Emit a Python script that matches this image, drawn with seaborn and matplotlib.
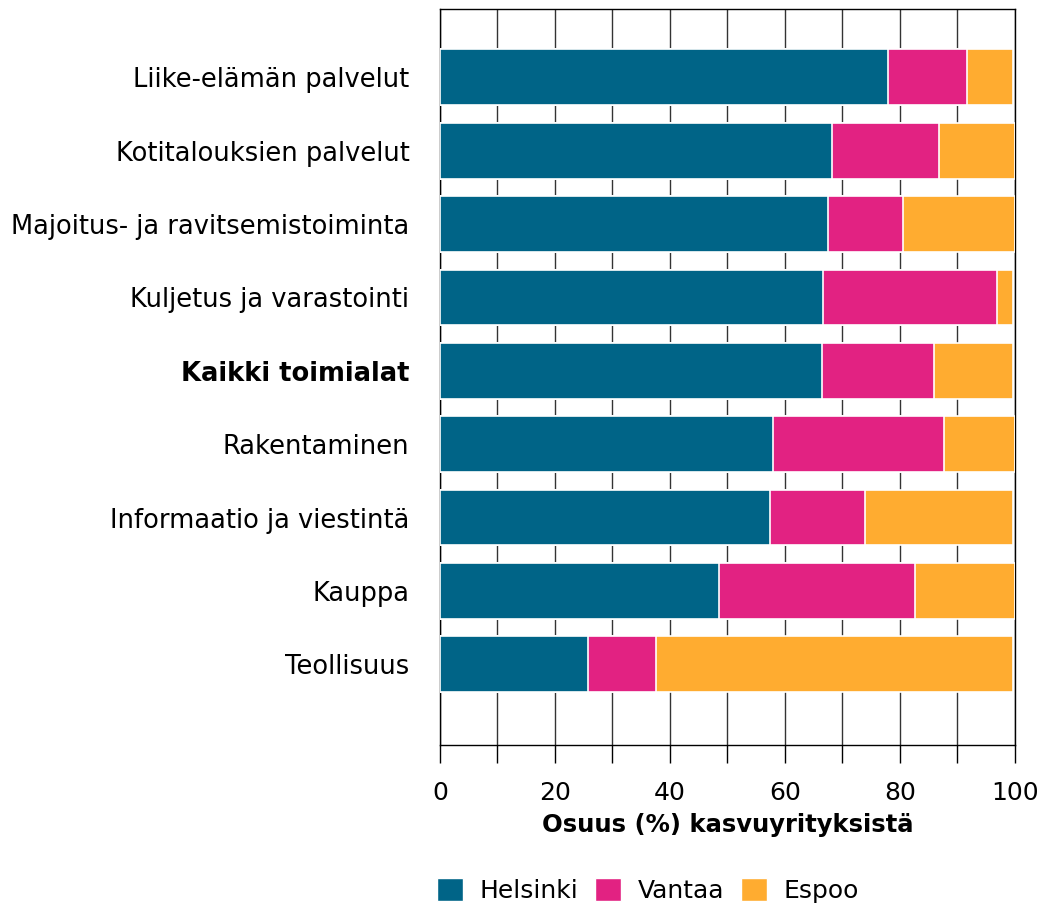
import pandas as pd
import numpy as np
import matplotlib.pyplot as plt
import seaborn as sns
from matplotlib.patches import Patch
from matplotlib.ticker import MultipleLocator

categories = ['Liike-elämän palvelut', 'Kotitalouksien palvelut',
              'Majoitus- ja ravitsemistoiminta', 'Kuljetus ja varastointi',
              'Kaikki toimialat', 'Rakentaminen', 'Informaatio ja viestintä',
              'Kauppa', 'Teollisuus']
helsinki = [77.9, 68.3, 67.5, 66.6, 66.4, 57.9, 57.4, 48.5, 25.7]
vantaa = [13.8, 18.5, 13.0, 30.3, 19.5, 29.8, 16.5, 34.1, 11.9]
espoo = [8.0, 13.2, 19.5, 2.8, 13.8, 12.3, 25.8, 17.4, 62.1]

series = ['Helsinki', 'Vantaa', 'Espoo']
colors = ['#006487', '#e22282', '#ffac30']

df = pd.DataFrame({'Toimiala': categories, 'Helsinki': helsinki,
                   'Vantaa': vantaa, 'Espoo': espoo})
cum = df[series].cumsum(axis=1)
cum['Toimiala'] = df['Toimiala']

sns.set_style('white')
plt.rcParams['font.family'] = ['DejaVu Sans']
plt.rcParams['text.color'] = 'black'
plt.rcParams['xtick.color'] = 'black'
plt.rcParams['ytick.color'] = 'black'
plt.rcParams['axes.labelcolor'] = 'black'

fig = plt.figure(figsize=(10.45, 9.07), dpi=100)
ax = fig.add_axes([0.421, 0.1786, 0.55, 0.8114])

# draw cumulative bars from the longest to the shortest
for s, c in reversed(list(zip(series, colors))):
    sns.barplot(data=cum, x=s, y='Toimiala', order=categories, color=c,
                orient='h', width=0.76, edgecolor='white', linewidth=1.2,
                saturation=1, ax=ax, zorder=3)

ax.set_xlim(0, 100)
ax.set_ylim(9.1, -0.93)
ax.xaxis.set_major_locator(MultipleLocator(20))
ax.xaxis.set_minor_locator(MultipleLocator(10))
ax.grid(axis='x', which='both', color='#333333', linewidth=1, zorder=0)
ax.set_axisbelow(True)
ax.tick_params(axis='x', which='both', direction='out', length=13,
               width=1, color='black', labelsize=18, pad=13, bottom=True)
ax.tick_params(axis='y', length=0, labelsize=18.5, pad=22)
ax.set_ylabel('')
ax.set_xlabel('Osuus (%) kasvuyrityksistä', fontsize=17.5,
              fontweight='bold', labelpad=6)
for sp in ax.spines.values():
    sp.set_visible(True)
    sp.set_color('black')
    sp.set_linewidth(1)

for lbl in ax.get_yticklabels():
    if lbl.get_text() == 'Kaikki toimialat':
        lbl.set_fontweight('bold')

handles = [Patch(facecolor=c, edgecolor='white', label=s)
           for s, c in zip(series, colors)]
fig.legend(handles=handles, loc='center', bbox_to_anchor=(0.62, 0.0187),
           ncol=3, frameon=False, fontsize=18, handlelength=1.04,
           handleheight=1.04, handletextpad=0.64, columnspacing=0.7,
           borderpad=0.1)

fig.savefig('out.png', dpi=100)
